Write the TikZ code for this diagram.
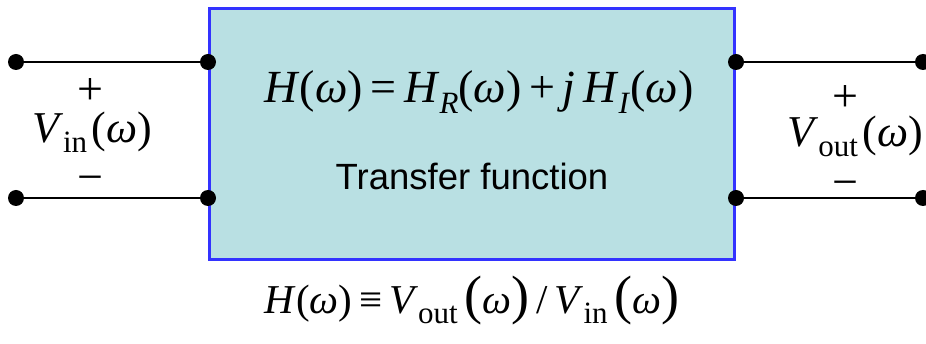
\documentclass[tikz,border=0pt]{standalone}
\usepackage{fontspec}
\setmainfont{Liberation Serif}
\newfontfamily\arialf{Liberation Sans}
\usepackage{graphicx}
\definecolor{boxfill}{RGB}{185,224,227}
\definecolor{boxedge}{RGB}{51,51,255}
\newcommand{\sbs}[1]{\raisebox{-0.22em}{\fontsize{31}{31}\selectfont #1}}
\newcommand{\bigp}[1]{{\fontsize{54}{54}\selectfont #1}}
\tikzset{
  tbox/.style={draw=boxedge, fill=boxfill, line width=3pt, minimum width=525pt, minimum height=251pt, inner sep=0pt},
  dot/.style={circle, fill=black, inner sep=0pt, minimum size=16pt},
  wire/.style={line width=2.8pt, black},
  eqf/.style={font=\fontsize{46}{50}\selectfont, inner sep=0pt},
  vlab/.style={font=\fontsize{44}{48}\selectfont, inner sep=0pt},
  eqs/.style={font=\fontsize{41}{44}\selectfont, inner sep=0pt},
  sgn/.style={font=\fontsize{46}{48}\selectfont, inner sep=0pt, anchor=base},
  lbl/.style={font=\arialf\fontsize{36.5}{40}\selectfont, inner sep=0pt}
}
\begin{document}
\begin{tikzpicture}[x=1pt,y=-1pt]
\useasboundingbox (0,0) rectangle (926,344);
\node[tbox] (box) at (472,134) {};
\node[dot] (l1) at (16,62) {};
\node[dot] (l2) at (208,62) {};
\node[dot] (l3) at (16,198) {};
\node[dot] (l4) at (208,198) {};
\node[dot] (r1) at (736,62) {};
\node[dot] (r2) at (923,62) {};
\node[dot] (r3) at (736,198) {};
\node[dot] (r4) at (923,198) {};
\draw[wire] (l1) -- (l2);
\draw[wire] (l3) -- (l4);
\draw[wire] (r1) -- (r2);
\draw[wire] (r3) -- (r4);
\node[sgn] (lp) at (90,105) {+};
\node[vlab, anchor=base] (vin) at (92,143) {\textit{V}\sbs{in}\hspace{0.1em}(\textit{ω})};
\node[sgn] (lm) at (90,193) {−};
\node[sgn] (rp) at (845,112) {+};
\node[vlab, anchor=base] (vout) at (855,147) {\textit{V}\sbs{out}\hspace{0.1em}(\textit{ω})};
\node[sgn] (rm) at (845,198) {−};
\node[eqf, anchor=base] (heq) at (479,103) {\textit{H}(\textit{ω})\,=\,\textit{H}\sbs{\textit{R}}(\textit{ω})\,+\,\textit{j\,H}\sbs{\textit{I}}(\textit{ω})};
\node[lbl, anchor=base] (tf) at (472,190) {Transfer function};
\node[eqs, anchor=base] (def) at (472,314) {\textit{H}(\textit{ω})\,≡\,\textit{V}\sbs{out}\,\bigp{(}\textit{ω}\bigp{)}\,/\,\textit{V}\sbs{in}\,\bigp{(}\textit{ω}\bigp{)}};
\end{tikzpicture}
\end{document}
